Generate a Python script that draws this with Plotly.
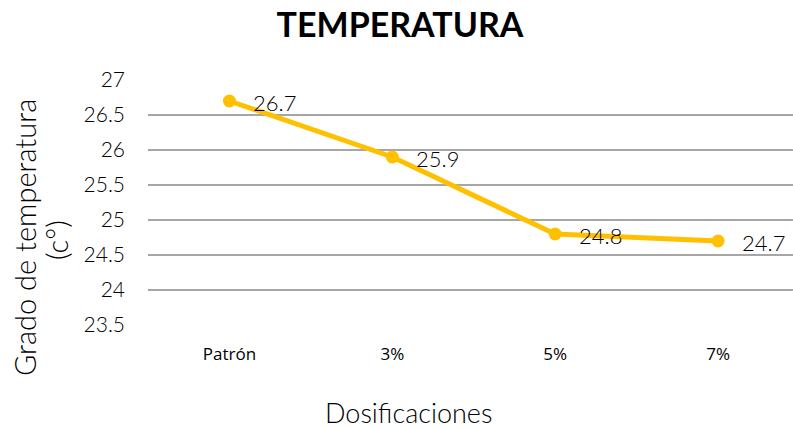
import plotly.graph_objects as go

categories = ["Patrón", "3%", "5%", "7%"]
values = [26.7, 25.9, 24.8, 24.7]
y_ticks = [23.5, 24, 24.5, 25, 25.5, 26, 26.5, 27]

FONT = "Lato, Open Sans, sans-serif"
W = 300

fig = go.Figure()
fig.add_trace(go.Scatter(
    x=categories, y=values,
    mode="lines+markers",
    line=dict(color="#FFC000", width=5),
    marker=dict(color="#FFC000", size=13),
    showlegend=False,
))
for c, v in zip(categories, values):
    fig.add_annotation(
        x=c, y=v, text=str(v), showarrow=False,
        xanchor="left", yanchor="middle", xshift=22, yshift=-1,
        font=dict(family=FONT, size=22, color="#000000", weight=W),
    )

fig.update_layout(
    width=793, height=428,
    margin=dict(l=148, r=0, t=80, b=103, autoexpand=False),
    paper_bgcolor="white", plot_bgcolor="white",
    title=dict(text="<b>TEMPERATURA</b>", x=400 / 793, xanchor="center",
               y=1 - 25 / 428, yanchor="middle",
               font=dict(family=FONT, size=34, color="#000000")),
    font=dict(family=FONT, color="#000000"),
)
fig.update_xaxes(
    type="category", range=[-0.5, 3.46], automargin=False,
    showgrid=False, zeroline=False, showline=False,
    tickfont=dict(family="Open Sans, sans-serif", size=17, color="#000000"),
    ticklabelstandoff=17,
)
fig.update_yaxes(
    range=[23.5, 27], tickvals=y_ticks, ticktext=[str(t) for t in y_ticks],
    automargin=False,
    showgrid=True, gridcolor="#A6A6A6", gridwidth=1.5,
    zeroline=False, showline=False,
    tickfont=dict(family=FONT, size=21, color="#000000", weight=W),
    ticklabelstandoff=22,
)
# axis titles
fig.add_annotation(
    text="Dosificaciones", xref="paper", yref="paper",
    x=(408 - 148) / 645, y=(325 - 413) / 245,
    xanchor="center", yanchor="middle", showarrow=False,
    font=dict(family=FONT, size=27, color="#000000", weight=W),
)
fig.add_annotation(
    text="Grado de temperatura", textangle=-90,
    xref="paper", yref="paper", x=(24 - 148) / 645, y=(325 - 238) / 245,
    xanchor="center", yanchor="middle", showarrow=False,
    font=dict(family=FONT, size=29, color="#000000", weight=W),
)
fig.add_annotation(
    text="(c°)", textangle=-90,
    xref="paper", yref="paper", x=(56 - 148) / 645, y=(325 - 240) / 245,
    xanchor="center", yanchor="middle", showarrow=False,
    font=dict(family=FONT, size=29, color="#000000", weight=W),
)

fig.write_html("out.html", config={"displayModeBar": False},
               post_script="document.body.style.margin='0';")
